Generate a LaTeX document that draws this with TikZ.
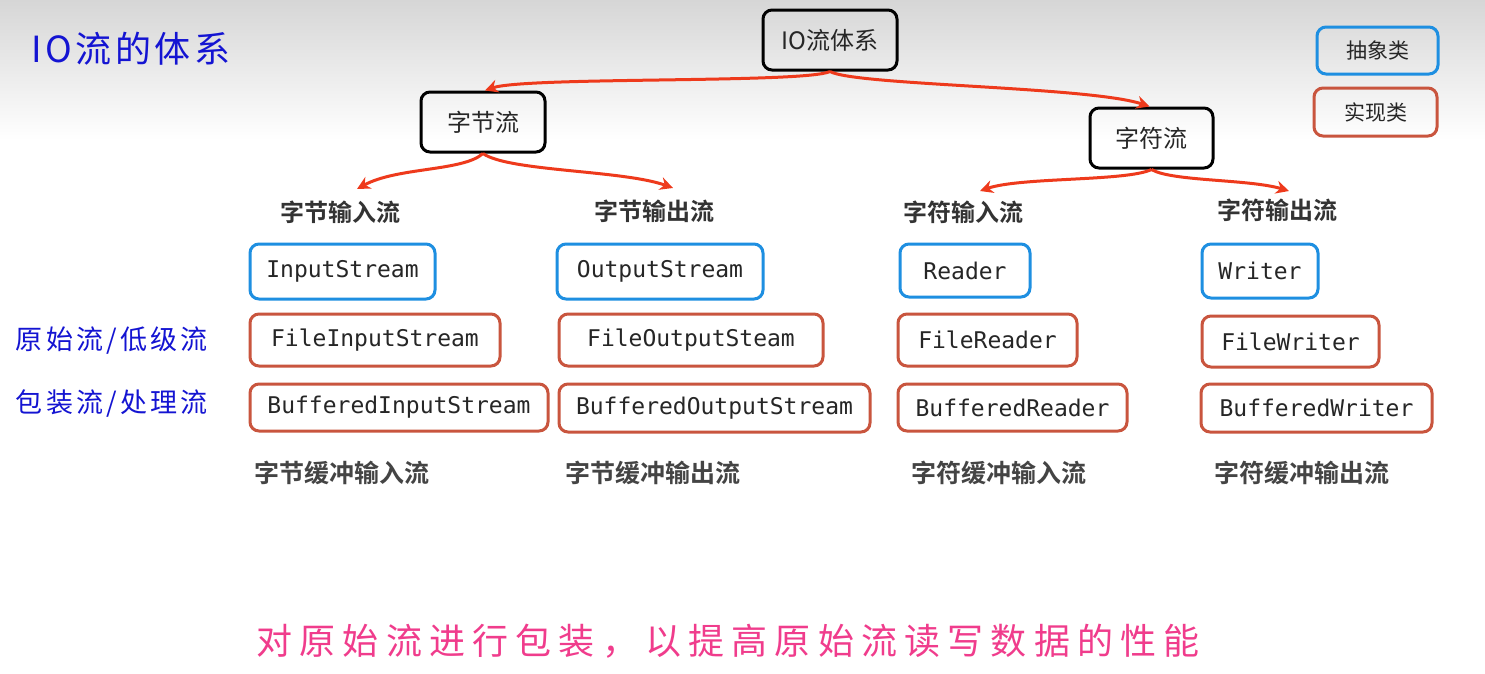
\documentclass[tikz,border=0pt]{standalone}
\usepackage{fontspec}
\setmainfont{DejaVu Sans}
\newfontfamily\cjk{Noto Sans CJK SC}
\newfontfamily\cjkb{Noto Sans CJK SC Bold}
\newfontfamily\monof{DejaVu Sans Mono}
\usetikzlibrary{arrows.meta}
\definecolor{blueb}{HTML}{1E8FE1}
\definecolor{redb}{HTML}{C9553E}
\definecolor{arrowred}{HTML}{EE3A1C}
\definecolor{hand}{HTML}{1414D2}
\definecolor{pinkt}{HTML}{F03C8C}
\definecolor{headg}{HTML}{333333}
\definecolor{subg}{HTML}{444444}
\tikzset{
  boxbase/.style={rectangle, rounded corners=9pt, line width=3pt, inner sep=0pt},
  blkbox/.style={boxbase, draw=black, font=\cjk\fontsize{24}{28}\selectfont, text=black!85},
  absbox/.style={boxbase, draw=blueb, font=\monof\fontsize{23}{27}\selectfont, text=black!85},
  impbox/.style={boxbase, draw=redb, font=\monof\fontsize{23}{27}\selectfont, text=black!85},
  legabs/.style={boxbase, draw=blueb, font=\cjk\fontsize{21}{25}\selectfont, text=black!85},
  legimp/.style={boxbase, draw=redb, font=\cjk\fontsize{21}{25}\selectfont, text=black!85},
  heading/.style={font=\cjkb\fontsize{24}{28}\selectfont, text=headg, inner sep=0pt},
  subhead/.style={font=\cjkb\fontsize{25}{29}\selectfont, text=subg, inner sep=0pt},
  handlbl/.style={font=\cjk\fontsize{27}{31}\selectfont\addfontfeatures{LetterSpace=12}, text=hand, inner sep=0pt},
  link/.style={draw=arrowred, line width=3pt, -{Stealth[length=13pt,width=13pt]}},
}
\begin{document}
\begin{tikzpicture}[x=1pt,y=-1pt]
\useasboundingbox (0,0) rectangle (1485,673);
\fill[white] (0,0) rectangle (1485,673);
\shade[top color={rgb,255:red,214;green,214;blue,214}, bottom color=white] (0,0) rectangle (1485,140);

% title
\node[handlbl, font=\cjk\fontsize{36}{40}\selectfont\addfontfeatures{LetterSpace=10}, anchor=west] (title) at (31,49) {IO流的体系};

% legend
\node[legabs, minimum width=121pt, minimum height=47pt] (legA) at (1377.5,50.5) {抽象类};
\node[legimp, minimum width=123pt, minimum height=48pt] (legB) at (1375.5,112) {实现类};

% tree
\node[blkbox, minimum width=134pt, minimum height=60pt] (io) at (830,40) {IO流体系};
\node[blkbox, minimum width=124pt, minimum height=60pt] (byte) at (483,122) {字节流};
\node[blkbox, minimum width=123pt, minimum height=60pt] (char) at (1151.5,138) {字符流};

\node[heading] (h1) at (340,212) {字节输入流};
\node[heading] (h2) at (654,211) {字节输出流};
\node[heading] (h3) at (963,212) {字符输入流};
\node[heading] (h4) at (1277,210) {字符输出流};

\coordinate (t1) at (357,189);
\coordinate (t2) at (673,188);
\coordinate (t3) at (980,191);
\coordinate (t4) at (1289,191);

\draw[link] (io.south) .. controls ++(-25,12) and ++(40,-14) .. ([xshift=2pt]byte.north);
\draw[link] (io.south) .. controls ++(25,14) and ++(-60,-20) .. ([xshift=-2pt]char.north);
\draw[link] (byte.south) .. controls ++(-20,18) and ++(40,-22) .. (t1);
\draw[link] (byte.south) .. controls ++(25,18) and ++(-50,-18) .. (t2);
\draw[link] (char.south) .. controls ++(-25,12) and ++(40,-14) .. (t3);
\draw[link] (char.south) .. controls ++(20,12) and ++(-40,-12) .. (t4);

% row 1 abstract
\node[absbox, minimum width=185pt, minimum height=55pt] (is) at (342.5,271.5) {InputStream};
\node[absbox, minimum width=206pt, minimum height=55pt] (os) at (660,271.5) {OutputStream};
\node[absbox, minimum width=130pt, minimum height=53pt] (rd) at (965,270.5) {Reader};
\node[absbox, minimum width=116pt, minimum height=54pt] (wr) at (1260,271) {Writer};

% row 2
\node[impbox, minimum width=250pt, minimum height=52pt] (fis) at (375,340) {FileInputStream};
\node[impbox, minimum width=264pt, minimum height=52pt] (fos) at (691,340) {FileOutputSteam};
\node[impbox, minimum width=179pt, minimum height=52pt] (frd) at (987.5,340) {FileReader};
\node[impbox, minimum width=177pt, minimum height=51pt] (fwr) at (1290.5,341.5) {FileWriter};

% row 3
\node[impbox, minimum width=298pt, minimum height=47pt] (bis) at (399,407.5) {BufferedInputStream};
\node[impbox, minimum width=311pt, minimum height=48pt] (bos) at (714.5,408) {BufferedOutputStream};
\node[impbox, minimum width=229pt, minimum height=47pt] (brd) at (1012.5,407.5) {BufferedReader};
\node[impbox, minimum width=231pt, minimum height=48pt] (bwr) at (1316.5,408) {BufferedWriter};

% sub labels
\node[subhead] (s1) at (342,473) {字节缓冲输入流};
\node[subhead] (s2) at (653,473) {字节缓冲输出流};
\node[subhead] (s3) at (999,473) {字符缓冲输入流};
\node[subhead] (s4) at (1302,473) {字符缓冲输出流};

% left labels
\node[handlbl] (l1) at (112,341) {原始流/低级流};
\node[handlbl] (l2) at (112,403) {包装流/处理流};

% bottom
\node[font=\cjk\fontsize{36}{40}\selectfont\addfontfeatures{LetterSpace=20}, text=pinkt, inner sep=0pt] (note) at (728,641) {对原始流进行包装，以提高原始流读写数据的性能};
\end{tikzpicture}
\end{document}
